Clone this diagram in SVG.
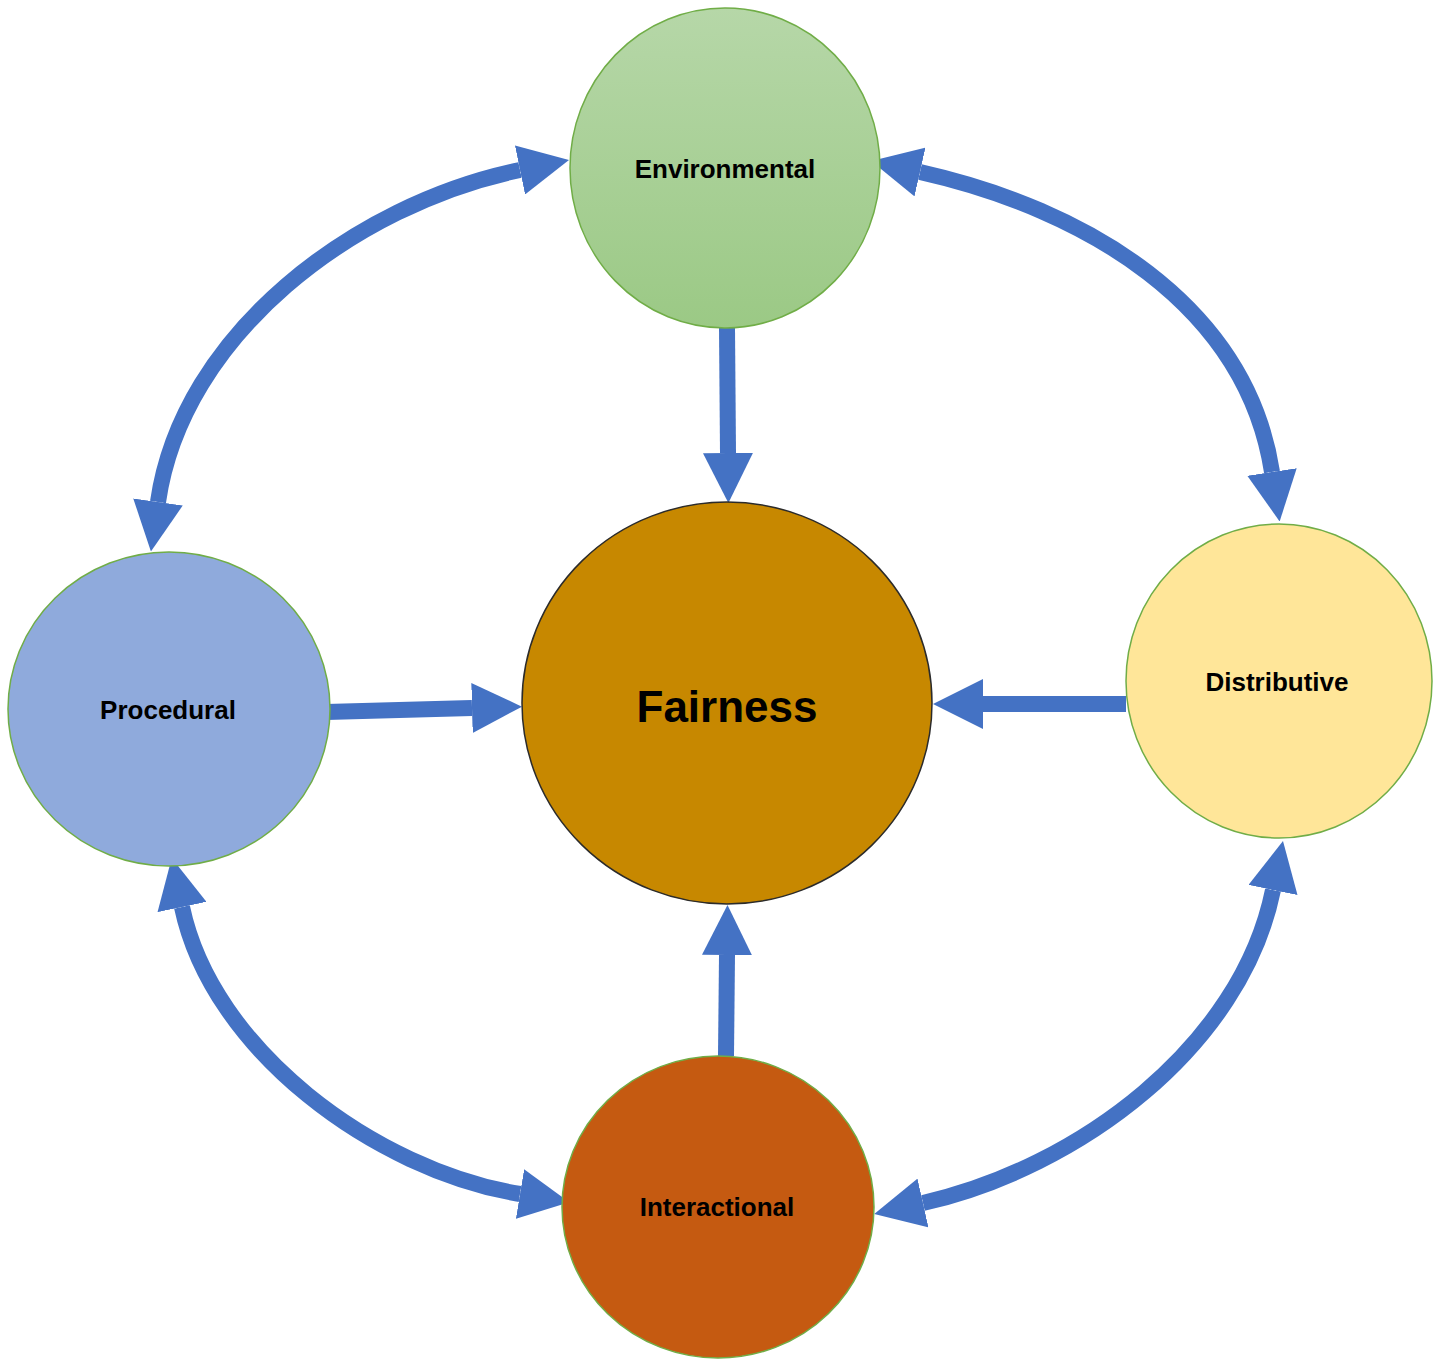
<svg xmlns="http://www.w3.org/2000/svg" width="1441" height="1368" viewBox="0 0 1441 1368">
  <style>
    .lbl { font-family: "Liberation Sans", Arial, sans-serif; font-weight: bold; fill: #000; text-anchor: middle; }
    .small { font-size: 26px; }
    .big { font-size: 44px; }
    .conn { fill: none; stroke: #4472C4; stroke-width: 16; marker-end: url(#head); }
    .both { marker-start: url(#head); }
    .node { stroke: #70AD47; stroke-width: 1.5; }
  </style>
  <defs>
    <marker id="head" markerUnits="userSpaceOnUse" viewBox="0 0 50 50" markerWidth="50" markerHeight="50" refX="0" refY="25" orient="auto-start-reverse">
      <path d="M0,0 L50,25 L0,50 Z" fill="#4472C4"/>
    </marker>
    <linearGradient id="gEnv" x1="0" y1="0" x2="0" y2="1">
      <stop offset="0" stop-color="#B6D7A8"/>
      <stop offset="1" stop-color="#9BC985"/>
    </linearGradient>
  </defs>
  <rect width="1441" height="1368" fill="#FFFFFF"/>

  <g id="connectors">
    <path class="conn" d="M727,328 L728,453"/>
    <path class="conn" d="M326,712 L472,708"/>
    <path class="conn" d="M1126,704 L983,704"/>
    <path class="conn" d="M726,1056 L727,955"/>
    <path class="conn both" d="M158,502 C182,334 355,204 520,170"/>
    <path class="conn both" d="M920,172 C1085,209 1246,304 1272,472"/>
    <path class="conn both" d="M182,907 C212,1050 375,1170 520,1194"/>
    <path class="conn both" d="M1273,890 C1241,1047 1078,1168 923,1203"/>
  </g>

  <g id="environmental">
    <ellipse class="node" cx="725" cy="168" rx="155" ry="160" fill="url(#gEnv)"/>
    <text class="lbl small" x="725" y="178">Environmental</text>
  </g>
  <g id="fairness">
    <ellipse cx="727" cy="703" rx="205" ry="201" fill="#C78800" stroke="#2B2B2B" stroke-width="1.5"/>
    <text class="lbl big" x="727" y="722">Fairness</text>
  </g>
  <g id="procedural">
    <ellipse class="node" cx="169" cy="709" rx="161" ry="157" fill="#8FAADC"/>
    <text class="lbl small" x="168" y="719">Procedural</text>
  </g>
  <g id="distributive">
    <ellipse class="node" cx="1279" cy="681" rx="153" ry="157" fill="#FFE699"/>
    <text class="lbl small" x="1277" y="691">Distributive</text>
  </g>
  <g id="interactional">
    <ellipse class="node" cx="718" cy="1207" rx="156" ry="151" fill="#C55A11"/>
    <text class="lbl small" x="717" y="1216">Interactional</text>
  </g>
</svg>
